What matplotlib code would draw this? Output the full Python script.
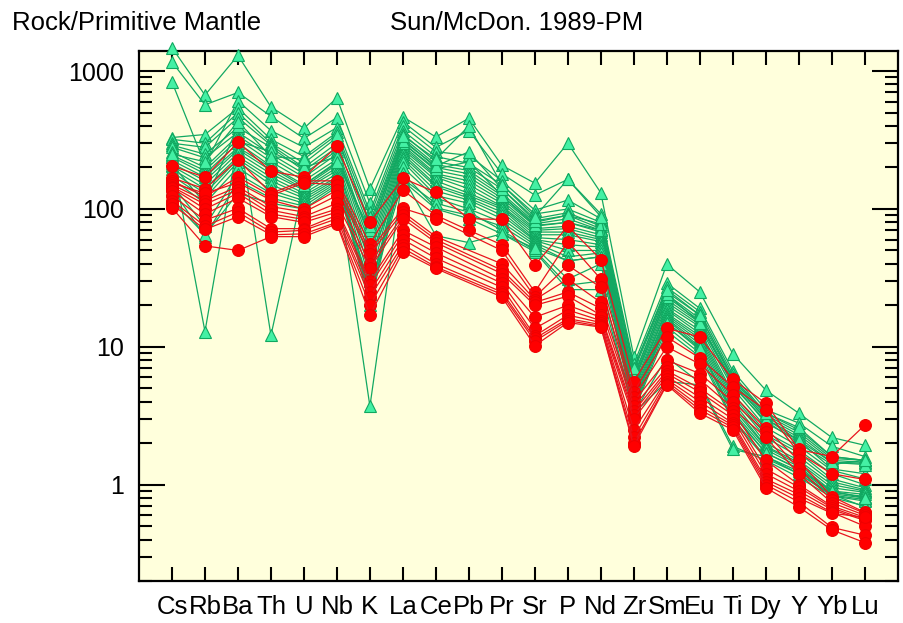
import numpy as np
import matplotlib
matplotlib.use("Agg")
import matplotlib.pyplot as plt
from matplotlib.ticker import LogLocator, FixedLocator, NullFormatter

plt.rcParams['font.family'] = ['Liberation Sans', 'DejaVu Sans']

elements = ["Cs", "Rb", "Ba", "Th", "U", "Nb", "K", "La", "Ce", "Pb", "Pr",
            "Sr", "P", "Nd", "Zr", "Sm", "Eu", "Ti", "Dy", "Y", "Yb", "Lu"]

nan = np.nan

# Primitive-mantle normalised values, group A (green triangles)
group_a = [
    [1480, 670, 1300, 550, 385, 640, 140, 466, 333, 455, 207, 154, 300, 131, 8.5, 39.8, 25, 8.9, 4.85, 3.3, 2.2, 1.93],
    [1166, 570, 700, 470, 325, 460, 110, 430, 280, 370, 180, 126, 164, 92, 7.5, 29, 19, 6.7, 3.5, 2.8, 1.9, 1.6],
    [834, 210, 610, 370, 280, 390, 95, 400, 260, 245, 160, 98, 116, 85, 7.0, 27, 18, 6.3, 3.3, 2.5, 1.6, 1.5],
    [330, 347, 540, 320, 240, 360, 88, 370, 240, 214, 150, 92, 100, 80, 6.7, 25, 17, 6.0, 3.2, 2.4, 1.55, 1.5],
    [320, 300, 500, 300, 215, 330, 80, 350, 220, 200, 140, 85, 94, 75, 6.2, 24, 16, 5.8, 3.1, 2.3, 1.5, 1.45],
    [300, 280, 460, 290, 200, 300, 70, 330, 210, 190, 130, 80, 90, 72, 5.8, 22, 15, 5.5, 3.0, 2.2, 1.45, 1.43],
    [290, 250, 390, 280, 190, 280, 60, 320, 200, 180, 125, 78, 85, 70, 5.5, 21, 14.5, 5.4, 2.8, 2.1, 1.3, 1.2],
    [280, 235, 360, 250, 180, 265, 55, 300, 190, 170, 120, 75, 80, 68, 5.2, 20, 14, 5.0, 2.6, 1.9, 1.27, 1.1],
    [260, 200, 340, 235, 170, 250, 50, 290, 180, 160, 115, 72, 75, 65, 5.0, 19, 13.2, 4.6, 2.4, 1.78, 1.2, 1.0],
    [245, 190, 320, 220, 160, 230, 45, 280, 175, 150, 110, 70, 72, 62, 4.8, 18.5, 12.5, 4.4, 2.3, 1.7, 1.1, 0.95],
    [238, 180, 300, 205, 150, 215, 40, 270, 170, 140, 105, 68, 68, 60, 4.6, 17.5, 12, 4.2, 2.2, 1.6, 1.05, 0.92],
    [225, 170, 280, 200, 145, 210, 35, 260, 160, 130, 103, 65, 65, 58, 4.4, 17, 11.5, 4.0, 2.0, 1.5, 1.0, 0.9],
    [215, 160, 270, 190, 140, 200, 30, 250, 150, 125, 100, 62, 60, 55, 4.2, 16.5, 11, 3.8, 1.9, 1.45, 0.95, 0.88],
    [205, 150, 255, 180, 137, 190, 25, 240, 145, 120, 95, 60, 55, 53, 4.0, 16, 10.5, 3.6, 1.87, 1.4, 0.9, 0.85],
    [195, 140, 240, 170, 130, 180, 24, 230, 135, 116, 90, 59, 50, 50, 3.8, 15.7, 10, 3.4, 1.8, 1.35, 0.88, 0.82],
    [185, 130, 230, 160, 125, 170, 22, 220, 125, 110, 85, 57, 45, 48, 3.6, 15, 9.5, 3.2, 1.7, 1.3, 0.86, 0.8],
    [175, 120, 220, 150, 120, 165, 20, 200, 120, 100, 80, 55, 42, 45, 3.5, 14, 9, 3.0, 1.6, 1.25, 0.84, 0.78],
    [165, 110, 200, 137, 115, 160, 3.7, 181, 102, 90, 75, 53, 31, 40, 3.4, 13, 8.5, 2.9, 1.55, 1.2, 0.83, 0.76],
    [150, 75, 180, 130, 110, 155, 28, 170, 64, 57, 66, 49, 26, 26, 3.3, 8.4, 5.5, 1.9, 1.5, 1.13, 0.81, 0.7],
    [140, 63, 160, 120, 105, 150, 45, 165, 110, 95, 70, 50, 28, 30, 3.3, 5.6, 5.3, 1.8, 1.6, 1.2, 0.85, 0.69],
    [240, 12.9, 310, 260, 200, 240, 65, 300, 195, 220, 125, 76, 80, 70, 5.6, 23, 15.5, 5.2, 2.9, 2.0, 1.4, 1.5],
    [210, 110, 400, 12.1, 150, 220, 70, 310, 205, 260, 140, 82, 90, 78, 6.0, 24, 15, 5.6, 3.0, 2.1, 1.45, 1.4],
    [116, 65, 130, 110, 100, 145, 24, 160, 100, 85, 66, 52, 42, 45, 3.9, 15, 9.8, 3.3, 1.7, 1.3, 0.9, 0.8],
    [250, 220, 430, 240, 230, 345, 75, 340, 230, 400, 150, 88, 164, 88, 7.0, 26, 17, 5.9, 3.3, 2.6, 1.6, 1.5],
]

# Primitive-mantle normalised values, group B (red circles); Pb missing in most
group_b = [
    [205, 170, 305, 188, 170, 285, 80, 167, 132, 85, 84, 39, 75, 43, 5.6, 13.6, 11.8, 5.8, 3.9, 1.8, 1.6, 2.7],
    [168, 140, 228, 130, 160, 160, 56, 137, 90, 70, 55, 25, 58, 31, 4.7, 11.8, 8.3, 5.1, 3.5, 1.7, 1.2, 1.09],
    [160, 123, 170, 125, 155, 150, 50, 101, 85, nan, 50, 23, 39, 27, 4.3, 10, 7.5, 4.5, 2.56, 1.5, 0.82, 0.63],
    [154, 130, 155, 116, 100, 137, 47, 95, 63, nan, 40, 22, 31, 21, 4.0, 8, 6.4, 4.0, 2.4, 1.31, 0.78, 0.62],
    [150, 115, 145, 104, 95, 125, 40, 90, 60, nan, 36, 21, 25, 19, 3.7, 7.1, 5.8, 3.6, 2.2, 1.2, 0.74, 0.6],
    [145, 108, 138, 98, 88, 110, 37, 85, 57, nan, 34, 20, 23.3, 17, 3.4, 6.7, 5.0, 3.4, 1.5, 1.0, 0.7, 0.58],
    [142, 100, 130, 92, 84, 100, 30, 70, 53, nan, 31, 16.4, 20, 16.4, 3.2, 6.4, 4.7, 3.2, 1.3, 0.96, 0.68, 0.56],
    [135, 92, 120, 88, 80, 95, 28, 65, 48, nan, 29, 13.6, 18.5, 15.5, 3.0, 6.1, 4.3, 3.0, 1.2, 0.9, 0.66, 0.55],
    [125, 83, 101, 72, 72, 90, 25, 60, 44, nan, 27, 12, 17, 15, 2.5, 5.8, 4.0, 2.8, 1.1, 0.85, 0.63, 0.5],
    [115, 75, 95, 68, 70, 85, 23, 55, 40, nan, 25, 11.5, 16, 14.5, 2.2, 5.6, 3.7, 2.7, 1.05, 0.8, 0.62, 0.58],
    [108, 71, 88, 65, 66, 80, 20, 52, 38, nan, 24, 11, 15.5, 14.1, 2.0, 5.4, 3.5, 2.6, 1.0, 0.75, 0.49, 0.43],
    [102, 54, 50, 63, 63, 78, 17, 49, 37, nan, 23, 10.2, 15, 13.9, 1.9, 5.3, 3.3, 2.5, 0.95, 0.69, 0.47, 0.38],
]

y_tick_values = [1, 10, 100, 1000]
y_tick_labels = ["1", "10", "100", "1000"]

fig = plt.figure(figsize=(9.04, 6.23), dpi=100)
ax = fig.add_axes([139 / 904, 1 - 581 / 623, (897.7 - 139) / 904, (581 - 51) / 623])
ax.set_facecolor("#FFFFDC")

x = np.arange(len(elements))


def draw_group(rows, line_color, face, edge, marker, size):
    for row in rows:
        vals = np.array(row, dtype=float)
        ok = ~np.isnan(vals)
        ax.plot(x[ok], vals[ok], color=line_color, lw=0.9, marker=marker,
                ms=size, mfc=face, mec=edge, mew=0.8, clip_on=False, zorder=3)


draw_group(group_a, "#12A862", "#44F0A4", "#10A860", "^", 9)
draw_group(group_b, "#E8141C", "#FF0000", "#F00000", "o", 8.5)

ax.set_yscale("log")
ax.set_xlim(-1, 22)
ax.set_ylim(0.2, 1400)

ax.set_xticks(x)
ax.set_xticklabels(elements)
ax.yaxis.set_major_locator(FixedLocator(y_tick_values))
ax.set_yticklabels(y_tick_labels)
ax.yaxis.set_minor_locator(LogLocator(base=10, subs=np.arange(2, 10)))
ax.yaxis.set_minor_formatter(NullFormatter())

ax.tick_params(axis="x", which="major", direction="in", length=10, width=1.5,
               top=True, bottom=True, labelsize=18.5, pad=10)
ax.tick_params(axis="y", which="major", direction="in", length=19, width=1.5,
               left=True, right=True, labelsize=18, pad=11)
ax.tick_params(axis="y", which="minor", direction="in", length=9.5, width=1.5,
               left=True, right=True)

for spine in ax.spines.values():
    spine.set_linewidth(1.6)

fig.text(12 / 904, 1 - 30 / 623, "Rock/Primitive Mantle", fontsize=18.5,
         ha="left", va="baseline")
fig.text(390 / 904, 1 - 30 / 623, "Sun/McDon. 1989-PM", fontsize=18.5,
         ha="left", va="baseline")

fig.savefig("out.png", dpi=100)
